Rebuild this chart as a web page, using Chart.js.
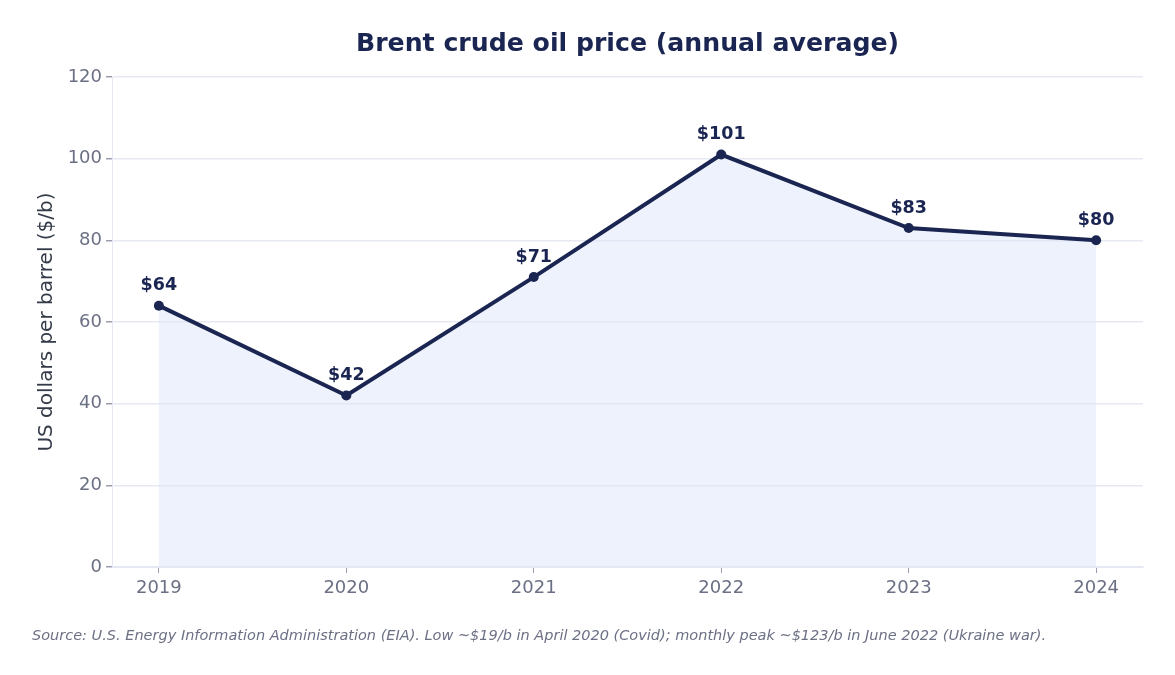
<!DOCTYPE html>
<html>
<head>
<meta charset="utf-8">
<script src="https://cdn.jsdelivr.net/npm/chart.js@4"></script>
<style>
  html, body { margin: 0; padding: 0; background: #ffffff; }
  #wrap { width: 1175px; height: 675px; }
</style>
</head>
<body>
<div id="wrap"><canvas id="oilPrice"></canvas></div>
<script>
const years = [2019, 2020, 2021, 2022, 2023, 2024]
const prices = [64, 42, 71, 101, 83, 80]
const yTicks = [0, 20, 40, 60, 80, 100, 120]

const navy = '#1a2551'
const gridColor = '#e6e9f3'
const tickText = '#6b7084'

// title centred over the plot area, not the whole canvas
const plotTitle = {
    id: 'plotTitle',
    afterDraw(chart) {
        const { ctx, chartArea } = chart
        ctx.save()
        ctx.font = 'bold 25.2px "DejaVu Sans"'
        ctx.fillStyle = navy
        ctx.textAlign = 'center'
        ctx.textBaseline = 'middle'
        ctx.fillText('Brent crude oil price (annual average)', (chartArea.left + chartArea.right) / 2, 44)
        ctx.restore()
    }
}

const pointLabels = {
    id: 'pointLabels',
    afterDatasetsDraw(chart) {
        const { ctx } = chart
        const meta = chart.getDatasetMeta(0)
        ctx.save()
        ctx.font = 'bold 17.5px "DejaVu Sans"'
        ctx.fillStyle = navy
        ctx.textAlign = 'center'
        ctx.textBaseline = 'middle'
        meta.data.forEach((pt, i) => {
            ctx.fillText('$' + prices[i], pt.x, pt.y - 20)
        })
        ctx.restore()
    }
}

const context = document.getElementById('oilPrice').getContext('2d')

new Chart(context, {
    type: 'line',
    data: {
        datasets: [{
            label: 'Brent',
            data: years.map((y, i) => ({ x: y, y: prices[i] })),
            borderWidth: 4,
            fill: 'origin',
            tension: 0,
            borderColor: navy,
            backgroundColor: 'rgba(221, 230, 250, 0.5)',
            pointRadius: 5,
            pointBorderWidth: 0,
            pointBackgroundColor: navy,
            pointBorderColor: navy
        }]
    },
    plugins: [plotTitle, pointLabels],
    options: {
        responsive: true,
        maintainAspectRatio: false,
        animation: false,
        layout: {
            padding: { left: 32, right: 32, top: 77, bottom: 0 }
        },
        plugins: {
            legend: { display: false },
            tooltip: { enabled: false },
            subtitle: {
                display: true,
                position: 'bottom',
                align: 'start',
                text: 'Source: U.S. Energy Information Administration (EIA). Low ~$19/b in April 2020 (Covid); monthly peak ~$123/b in June 2022 (Ukraine war).',
                color: '#6b7084',
                font: { family: 'DejaVu Sans', size: 14.5, style: 'italic' },
                padding: { top: 23, bottom: 30 }
            }
        },
        scales: {
            x: {
                type: 'linear',
                min: 2018.75,
                max: 2024.25,
                afterBuildTicks: (scale) => {
                    scale.ticks = years.map(v => ({ value: v }))
                },
                ticks: {
                    color: tickText,
                    font: { family: 'DejaVu Sans', size: 18 },
                    padding: 5,
                    callback: (v) => String(v)
                },
                grid: {
                    drawOnChartArea: false,
                    tickColor: '#9a9eae',
                    tickLength: 6
                },
                border: { color: gridColor }
            },
            y: {
                min: 0,
                max: 120,
                afterBuildTicks: (scale) => {
                    scale.ticks = yTicks.map(v => ({ value: v }))
                },
                afterFit: (scale) => {
                    scale.width = 80
                },
                ticks: {
                    color: tickText,
                    font: { family: 'DejaVu Sans', size: 18 },
                    padding: 4
                },
                grid: {
                    color: gridColor,
                    lineWidth: 1.5,
                    tickColor: '#9a9eae',
                    tickLength: 6
                },
                border: { color: gridColor },
                title: {
                    display: true,
                    text: 'US dollars per barrel ($/b)',
                    color: '#333a48',
                    font: { family: 'DejaVu Sans', size: 20 },
                    padding: { top: 3, bottom: 0 }
                }
            }
        }
    }
});
</script>
</body>
</html>
